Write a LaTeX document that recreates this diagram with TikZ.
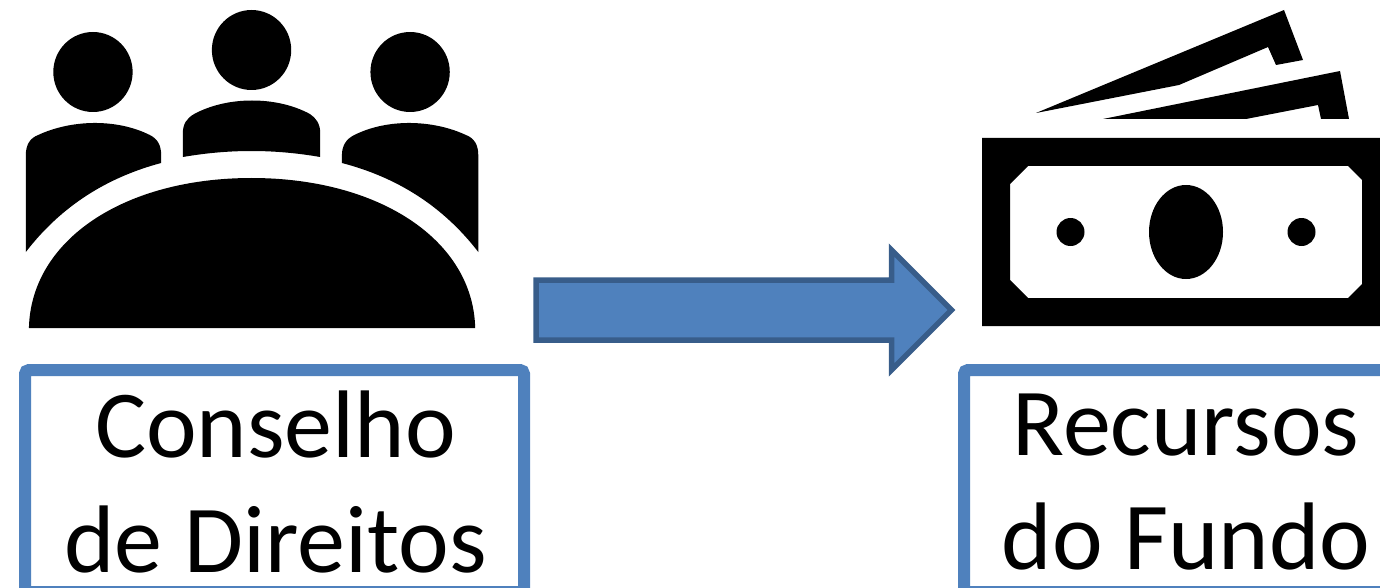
\documentclass[tikz,border=0pt]{standalone}
\usepackage{fontspec}
\setmainfont{Carlito}
\definecolor{boxblue}{HTML}{4F81BD}
\definecolor{arrowedge}{HTML}{385D8A}
\tikzset{
  icon/.style={fill=black,draw=none},
  labelbox/.style={draw=boxblue,line width=12pt,rounded corners=4pt,fill=white,outer sep=0pt,inner sep=0pt,minimum width=499pt,minimum height=222pt,anchor=north west},
  labeltext/.style={inner sep=0pt,align=center,font=\fontsize{96}{114.7}\selectfont,text=black},
  blockarrow/.style={fill=boxblue,draw=arrowedge,line width=5.5pt,miter limit=10}
}
\begin{document}
\begin{tikzpicture}[x=1pt,y=-1pt]
\useasboundingbox (0,0) rectangle (1380,588);
\clip (0,0) rectangle (1380,588);
% people and table
\begin{scope}[xscale=1.033]
\fill[icon] (90,72) ellipse [x radius=38.4,y radius=40];
\fill[icon] (243.5,50) ellipse [x radius=38.4,y radius=40];
\fill[icon] (397,72) ellipse [x radius=38.4,y radius=40];
\fill[icon] (25,252) -- (25,155) .. controls (25,145) and (29,138) .. (37,135)
  .. controls (68,120) and (112,118) .. (145,135) .. controls (153,139) and (156,146) .. (156,155)
  -- (156,163) .. controls (105,177) and (60,205) .. (25,252) -- cycle;
\fill[icon] (177,157) -- (177,133) .. controls (177,124) and (181,118) .. (188,114)
  .. controls (220,96) and (268,96) .. (300,114) .. controls (306,118) and (310,124) .. (310,133)
  -- (310,157) .. controls (265,149) and (222,149) .. (177,157) -- cycle;
\fill[icon] (463,252) -- (463,155) .. controls (463,145) and (459,138) .. (451,135)
  .. controls (420,120) and (376,118) .. (343,135) .. controls (335,139) and (331,146) .. (331,155)
  -- (331,163) .. controls (383,177) and (428,205) .. (463,252) -- cycle;
\fill[icon] (28,328) .. controls (30,240) and (120,178) .. (243.5,178)
  .. controls (367,178) and (458,240) .. (460,328) -- cycle;
\end{scope}
% banknote
\fill[icon,even odd rule] (982,138) rectangle (1380,326)
  (1028,166) -- (1348,166) -- (1362,180) -- (1362,284) -- (1348,298) -- (1028,298) -- (1010,280) -- (1010,184) -- cycle;
\fill[icon] (1186,232) ellipse [x radius=37,y radius=47];
\fill[icon] (1070.5,232) circle (14);
\fill[icon] (1301.5,232) circle (14);
\fill[icon] (1036,113) -- (1284,10) -- (1303,60) -- (1276,65) -- (1268,47) -- (1179,85) -- cycle;
\fill[icon] (1103,119) -- (1340,71) -- (1349,119) -- (1321,119) -- (1318,105) -- (1246,119) -- cycle;
% arrow
\draw[blockarrow] (536,280) -- (891.5,280) -- (891.5,250) -- (951.5,310) -- (891.5,370) -- (891.5,340) -- (536,340) -- cycle;
% boxes
\node[labelbox] (conselho) at (25,370) {};
\node[labelbox] (recursos) at (964,370) {};
\node[labeltext] (t1) at (275.5,482) {Conselho\\de Direitos};
\node[labeltext] (t2) at (1186,482) {Recursos\\do Fundo};
\end{tikzpicture}
\end{document}
